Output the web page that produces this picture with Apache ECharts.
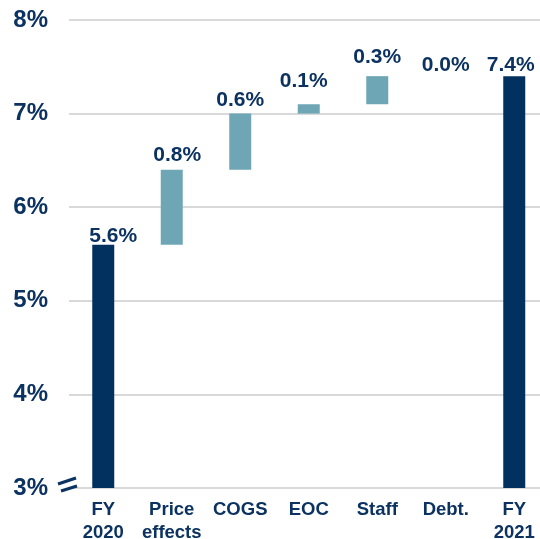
<!DOCTYPE html>
<html>
<head>
<meta charset="utf-8">
<script src="https://cdn.jsdelivr.net/npm/echarts@6/dist/echarts.min.js"></script>
<style>
  html, body { margin: 0; padding: 0; background: #fff; }
  #chart { width: 540px; height: 539px; }
</style>
</head>
<body>
<div id="chart"></div>
<script>
// data
const categories = ['FY\n2020', 'Price\neffects', 'COGS', 'EOC', 'Staff', 'Debt.', 'FY\n2021'];
const startValue = 5.6;
const endValue = 7.4;
const changes = [0.8, 0.6, 0.1, 0.3, 0.0]; // steps between the two totals
const yTicks = [3, 4, 5, 6, 7, 8];

// hand placement of the value labels, one per column: [dx, gap above bar]
const labelNudge = [[10, -2], [5.5, 4], [0, 2.5], [-5, 13], [0, 8.5], [0, 0], [-3.5, 0]];

const NAVY = '#0b3260';
const DARK = '#03315f';
const LIGHT = '#6ea6b5';

// build stacked series: invisible base + step + totals
const base = ['-'];
const steps = ['-'];
let running = startValue;
changes.forEach(v => {
  base.push(+running.toFixed(2));
  steps.push(v);
  running += v;
});
base.push('-');
steps.push('-');
const totals = [startValue, '-', '-', '-', '-', '-', endValue];

const labelStyle = {
  show: true,
  position: 'top',
  distance: 3,
  color: NAVY,
  fontSize: 21,
  fontWeight: 'bold',
  fontFamily: 'Liberation Sans, Arial, sans-serif',
  formatter: p => p.value.toFixed(1) + '%'
};

function withLabels(arr) {
  return arr.map((v, i) => v === '-' ? v : {
    value: v,
    label: { offset: [labelNudge[i][0], 0], distance: labelNudge[i][1] }
  });
}

const chart = echarts.init(document.getElementById('chart'));
chart.setOption({
  animation: false,
  textStyle: { fontFamily: 'Liberation Sans, Arial, sans-serif' },
  // the last column runs a little past the right edge of the picture
  grid: {
    left: 69, top: 20, width: 479.5, height: 468,
    containLabel: false, outerBoundsMode: 'none'
  },
  xAxis: {
    type: 'category',
    data: categories,
    axisLine: { show: false },
    axisTick: { show: false },
    axisLabel: {
      color: NAVY,
      fontSize: 18.5,
      fontWeight: 'bold',
      lineHeight: 23,
      margin: 10,
      interval: 0
    }
  },
  yAxis: {
    type: 'value',
    min: yTicks[0],
    max: yTicks[yTicks.length - 1],
    interval: 1,
    axisLine: { show: false },
    axisTick: { show: false },
    axisLabel: {
      color: NAVY,
      fontSize: 24,
      fontWeight: 'bold',
      margin: 21,
      formatter: v => v + '%'
    },
    splitLine: { lineStyle: { color: '#d9d9d9', width: 2 } }
  },
  series: [
    {
      type: 'bar', stack: 'wf', data: base, barWidth: 22,
      itemStyle: { color: 'transparent' }, silent: true
    },
    {
      type: 'bar', stack: 'wf', data: withLabels(steps), barWidth: 22,
      itemStyle: { color: LIGHT },
      label: labelStyle
    },
    {
      type: 'bar', stack: 'wf', data: withLabels(totals), barWidth: 22,
      itemStyle: { color: DARK },
      label: labelStyle
    }
  ]
});

// axis break mark at the bottom of the y axis
const y0 = chart.convertToPixel({ yAxisIndex: 0 }, yTicks[0]);
const x0 = 67;
chart.setOption({
  graphic: [
    { type: 'line', shape: { x1: x0 - 9, y1: y0 - 4, x2: x0 + 9, y2: y0 - 10 },
      style: { stroke: NAVY, lineWidth: 3 } },
    { type: 'line', shape: { x1: x0 - 6, y1: y0 + 3, x2: x0 + 10, y2: y0 - 2 },
      style: { stroke: NAVY, lineWidth: 3 } },
  ]
});
</script>
</body>
</html>
